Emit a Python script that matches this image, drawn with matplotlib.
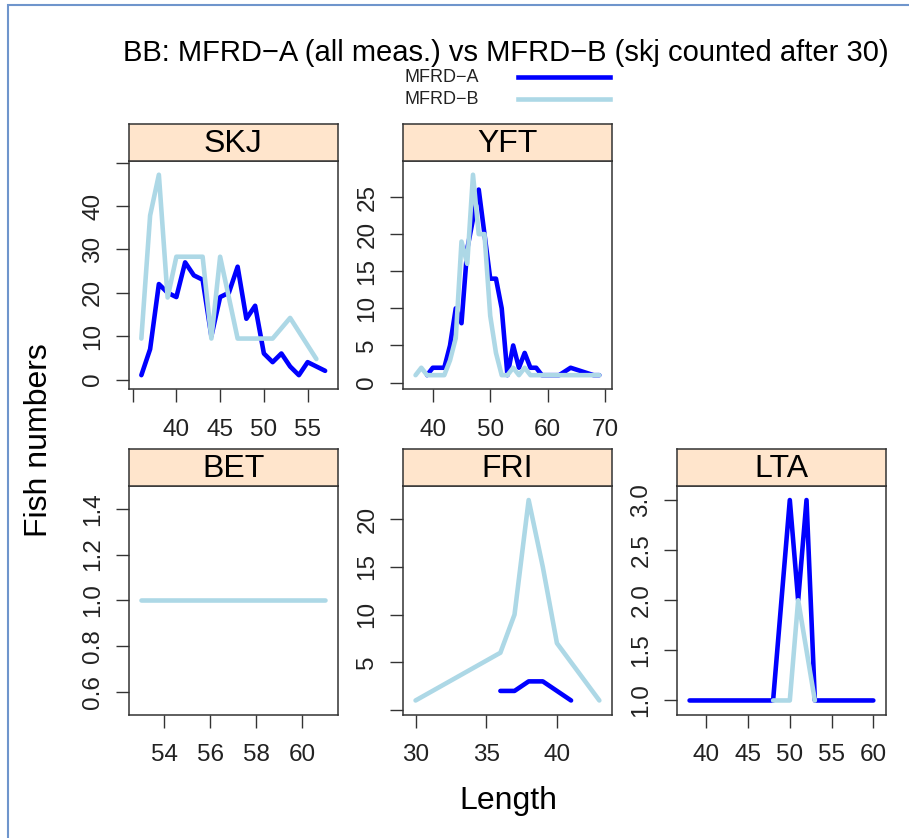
import matplotlib.pyplot as plt
from matplotlib.patches import Rectangle
from matplotlib.lines import Line2D

plt.rcParams['font.family'] = ['Liberation Sans', 'DejaVu Sans']

# data: length -> fish numbers, per species, for the two methods
skj_len_a = [36, 37, 38, 39, 40, 41, 42, 43, 44, 45, 46, 47, 48, 49, 50, 51, 52, 53, 54, 55, 56, 57]
skj_a = [1, 7, 22, 20, 19, 27, 24, 23, 10, 19, 20, 26, 14, 17, 6, 4, 6, 3, 1, 4, 3, 2]
skj_len_b = [36, 37, 38, 39, 40, 41, 42, 43, 44, 45, 46, 47, 48, 49, 50, 51, 53, 56]
skj_b = [9.44, 37.8, 47.2, 18.9, 28.3, 28.3, 28.3, 28.3, 9.44, 28.3, 18.9, 9.44,
         9.44, 9.44, 9.44, 9.44, 14.2, 4.72]

yft_len_a = [39, 40, 41, 42, 43, 44, 45, 46, 47, 48, 49, 50, 51, 52, 53, 54, 55, 56, 57, 58, 59, 62, 64, 68, 69]
yft_a = [1, 2, 2, 2, 5, 10, 8, 18, 22, 26, 20, 14, 14, 10, 1, 5, 2, 4, 2, 2, 1, 1, 2, 1, 1]
yft_len_b = [37, 38, 39, 40, 41, 42, 43, 44, 45, 46, 47, 48, 49, 50, 51, 52, 53, 54, 55, 56, 57, 69]
yft_b = [1, 2, 1, 1, 1, 1, 3, 6, 19, 16, 28, 20, 20, 9, 4, 1, 1, 2, 1, 2, 1, 1]

bet_len_a = []
bet_a = []
bet_len_b = [53, 61]
bet_b = [1, 1]

fri_len_a = [36, 37, 38, 39, 40, 41]
fri_a = [2, 2, 3, 3, 2, 1]
fri_len_b = [30, 36, 37, 38, 39, 40, 43]
fri_b = [1, 6, 10, 22, 15, 7, 1]

lta_len_a = [38, 40, 42, 44, 46, 48, 49, 50, 51, 52, 53, 54, 56, 58, 60]
lta_a = [1, 1, 1, 1, 1, 1, 2, 3, 2, 3, 1, 1, 1, 1, 1]
lta_len_b = [48, 49, 50, 51, 53]
lta_b = [1, 1, 1, 2, 1]

species = ['SKJ', 'YFT', 'BET', 'FRI', 'LTA']
series = {
    'SKJ': (skj_len_a, skj_a, skj_len_b, skj_b),
    'YFT': (yft_len_a, yft_a, yft_len_b, yft_b),
    'BET': (bet_len_a, bet_a, bet_len_b, bet_b),
    'FRI': (fri_len_a, fri_a, fri_len_b, fri_b),
    'LTA': (lta_len_a, lta_a, lta_len_b, lta_b),
}
xticks = {'SKJ': ([35, 40, 45, 50, 55], ['', '40', '45', '50', '55']),
          'YFT': ([40, 50, 60, 70], ['40', '50', '60', '70']),
          'BET': ([54, 56, 58, 60], ['54', '56', '58', '60']),
          'FRI': ([30, 35, 40], ['30', '35', '40']),
          'LTA': ([40, 45, 50, 55, 60], ['40', '45', '50', '55', '60'])}
yticks = {'SKJ': ([0, 10, 20, 30, 40, 50], ['0', '10', '20', '30', '40', '']),
          'YFT': ([0, 5, 10, 15, 20, 25], ['0', '5', '10', '15', '20', '25']),
          'BET': ([0.6, 0.8, 1.0, 1.2, 1.4], ['0.6', '0.8', '1.0', '1.2', '1.4']),
          'FRI': ([0, 5, 10, 15, 20], ['', '5', '10', '15', '20']),
          'LTA': ([1.0, 1.5, 2.0, 2.5, 3.0], ['1.0', '1.5', '2.0', '2.5', '3.0'])}

col_a = '#0000ff'
col_b = '#add8e6'

W, H = 909, 838
fig = plt.figure(figsize=(W / 100, H / 100), dpi=100)


def box(x0, y0, w, h):
    # pixel box (top-left origin) -> figure fraction
    return [x0 / W, 1 - (y0 + h) / H, w / W, h / H]


def padded(vals):
    lo, hi = min(vals), max(vals)
    if lo == hi:
        return lo - 0.5, hi + 0.5
    d = (hi - lo) * 0.07
    return lo - d, hi + d


col_x = [128.5, 402.7, 676.7]
pw, ph, sh = 209.5, 228.5, 36.7
row_y = [160.7, 486.0]
where = {'SKJ': (0, 0), 'YFT': (1, 0), 'BET': (0, 1), 'FRI': (1, 1), 'LTA': (2, 1)}

for sp in species:
    c, r = where[sp]
    xa, ya, xb, yb = series[sp]
    ax = fig.add_axes(box(col_x[c], row_y[r], pw, ph))
    if xa:
        ax.plot(xa, ya, color=col_a, lw=3.3, solid_joinstyle='round', solid_capstyle='round')
    ax.plot(xb, yb, color=col_b, lw=3.3, solid_joinstyle='round', solid_capstyle='round')
    ax.set_xlim(padded(xa + xb))
    ax.set_ylim(padded(ya + yb))
    ax.set_xticks(xticks[sp][0], xticks[sp][1])
    ax.set_yticks(yticks[sp][0], yticks[sp][1])
    ax.tick_params(length=9.5, width=1, color='#333333', labelsize=17.5, pad=12, labelcolor='#222222')
    ax.tick_params(axis='y', labelrotation=90, pad=8)
    for t in ax.get_yticklabels():
        t.set_va('center')
    for s in ax.spines.values():
        s.set_linewidth(1.1)
        s.set_color('#333333')

    st = fig.add_axes(box(col_x[c], row_y[r] - sh, pw, sh))
    st.set_facecolor('#ffe5cc')
    st.set_xticks([])
    st.set_yticks([])
    for s in st.spines.values():
        s.set_linewidth(1.1)
        s.set_color('#333333')
    st.text(0.5, 0.45, sp, ha='center', va='center', fontsize=23, transform=st.transAxes)

fig.text(506 / W, 1 - 53 / H, 'BB: MFRD\u2212A (all meas.) vs MFRD\u2212B (skj counted after 30)',
         ha='center', va='center', fontsize=21)

# key
for i, (lab, colr) in enumerate([('MFRD\u2212A', col_a), ('MFRD\u2212B', col_b)]):
    yy = 1 - (77 + 22 * i) / H
    fig.text(404 / W, yy, lab, ha='left', va='center', fontsize=13, color='#222222')
    fig.add_artist(Line2D([518 / W, 610 / W], [yy, yy], color=colr, lw=3.3,
                          transform=fig.transFigure))

fig.text(39 / W, 1 - 440 / H, 'Fish numbers', rotation=90, ha='center', va='center', fontsize=23)
fig.text(508 / W, 1 - 801 / H, 'Length', ha='center', va='center', fontsize=23)

fig.add_artist(Rectangle((8 / W, -0.5), 2, 1.5 - 5 / H, transform=fig.transFigure,
                         fill=False, edgecolor='#6f95cc', lw=1.5))

fig.savefig('out.png', dpi=100)
